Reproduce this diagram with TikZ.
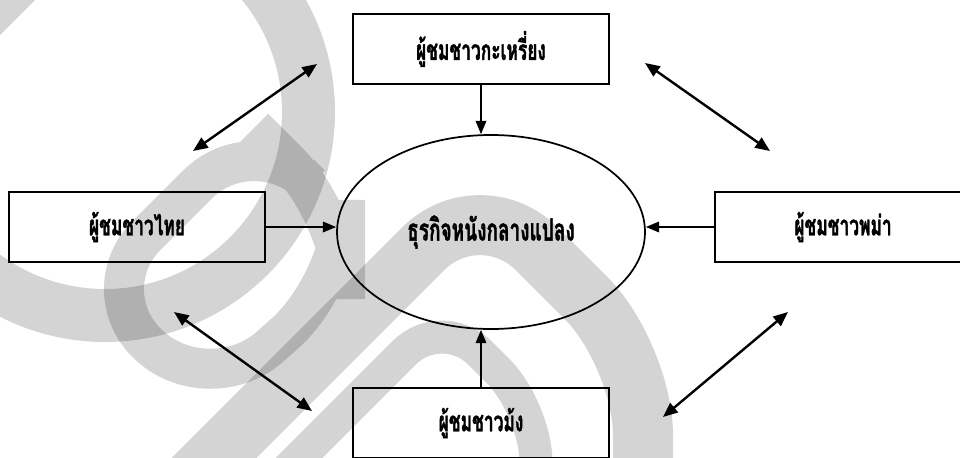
\documentclass[tikz,border=0pt]{standalone}
\usepackage{fontspec}
\newfontfamily\thaifont[Script=Thai,FakeStretch=0.62,BoldFeatures={FakeBold=1.2}]{Loma}
\usetikzlibrary{shapes.geometric,arrows.meta}
\tikzset{
  box/.style={draw,line width=1.3pt,minimum width=192pt,minimum height=53pt,inner sep=0pt,font=\thaifont\bfseries\fontsize{21}{24}\selectfont},
  hub/.style={ellipse,draw,line width=1.3pt,minimum width=231pt,minimum height=145.5pt,inner sep=0pt,font=\thaifont\bfseries\fontsize{23}{26}\selectfont},
  flow/.style={line width=1.1pt,-{Triangle[length=10pt,width=8pt]}},
  both/.style={line width=1.8pt,{Triangle[length=11pt,width=9pt]}-{Triangle[length=11pt,width=9pt]}},
  wm/.style={draw=black,draw opacity=0.17,line cap=butt,line join=miter},
  wmfill/.style={fill=black,fill opacity=0.17}
}
\begin{document}
\begin{tikzpicture}[x=0.75pt,y=-0.75pt]
\useasboundingbox (0,0) rectangle (960,457);
\begin{scope}
\clip (0,0) rectangle (960,457);
% watermark
\draw[wm,line width=39.75pt] (105,112) circle[radius=203.5];
\fill[wmfill] (0,0) -- (35,0) -- (0,35) -- cycle;
\draw[wm,line width=30pt,rounded corners=60pt] (254,128) -- (345,219) -- (345,280) -- (210,400) -- (90,292) -- (254,128) -- (300,174);
\draw[wm,line width=45pt,rounded corners=60pt] (190,482) -- (480,192) -- (643,355) -- (643,470);
\draw[wm,line width=24.75pt,rounded corners=40pt] (280,477) -- (442,315) -- (536,409) -- (536,470);
% diagram
\node[box] (karen) at (481,49) {ผู้ชมชาวกะเหรี่ยง};
\node[box] (thai) at (137,227) {ผู้ชมชาวไทย};
\node[box] (burma) at (843,227) {ผู้ชมชาวพม่า};
\node[box] (hmong) at (481,423) {ผู้ชมชาวม้ง};
\node[hub] (biz) at (491,232) {ธุรกิจหนังกลางแปลง};
\draw[flow] (karen.south) -- (karen.south |- biz.north);
\draw[flow] (hmong.north) -- (hmong.north |- biz.south);
\draw[flow] (thai.east) -- (thai.east -| biz.west);
\draw[flow] (burma.west) -- (burma.west -| biz.east);
\coordinate (tl1) at (193,151); \coordinate (tl2) at (317,64);
\coordinate (tr1) at (645,63);  \coordinate (tr2) at (770,151);
\coordinate (bl1) at (174,312); \coordinate (bl2) at (312,411);
\coordinate (br1) at (788,312); \coordinate (br2) at (663,417);
\draw[both] (tl1) -- (tl2);
\draw[both] (tr1) -- (tr2);
\draw[both] (bl1) -- (bl2);
\draw[both] (br1) -- (br2);
\end{scope}
\end{tikzpicture}
\end{document}
